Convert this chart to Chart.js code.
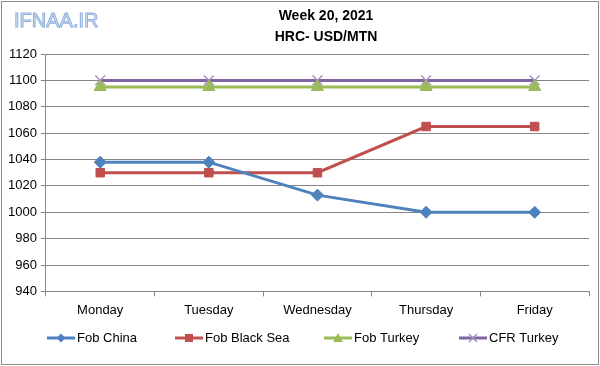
<!DOCTYPE html>
<html>
<head>
<meta charset="utf-8">
<script src="https://cdn.jsdelivr.net/npm/chart.js@4"></script>
<style>
  html, body { margin: 0; padding: 0; background: #fff; }
  #wrap { width: 600px; height: 366px; }
</style>
</head>
<body>
<div id="wrap"><canvas id="chart" width="600" height="366"></canvas></div>
<script>
// data
const days = ["Monday", "Tuesday", "Wednesday", "Thursday", "Friday"];
const fobChina = [1038, 1038, 1013, 1000, 1000];
const fobBlackSea = [1030, 1030, 1030, 1065, 1065];
const fobTurkey = [1095, 1095, 1095, 1095, 1095];
const cfrTurkey = [1100, 1100, 1100, 1100, 1100];
const titleLines = ["Week 20, 2021", "HRC- USD/MTN"];

const FONT = "'Liberation Sans', Arial, sans-serif";

// border, watermark, title and excel-like legend
const decor = {
  id: "decor",
  afterDraw(chart) {
    const ctx = chart.ctx;
    ctx.save();
    ctx.strokeStyle = "#8c8c8c";
    ctx.lineWidth = 1;
    ctx.strokeRect(1.5, 1.5, 597, 363);

    // watermark
    ctx.font = "20px " + FONT;
    ctx.textBaseline = "middle";
    ctx.textAlign = "left";
    ctx.fillStyle = "#dbe6f6";
    ctx.strokeStyle = "#8fb0dc";
    ctx.lineWidth = 1;
    ctx.fillText("IFNAA.IR", 14, 21);
    ctx.strokeText("IFNAA.IR", 14, 21);

    // title
    ctx.font = "bold 14px " + FONT;
    ctx.fillStyle = "#000";
    ctx.textAlign = "center";
    ctx.fillText(titleLines[0], 326, 16);
    ctx.fillText(titleLines[1], 326, 37);

    // legend
    ctx.font = "13px " + FONT;
    ctx.textAlign = "left";
    const xs = [47, 175, 324, 459];
    chart.data.datasets.forEach((ds, i) => {
      const x = xs[i], y = 338;
      ctx.strokeStyle = ds.borderColor;
      ctx.lineWidth = 3;
      ctx.beginPath();
      ctx.moveTo(x, y);
      ctx.lineTo(x + 28, y);
      ctx.stroke();
      drawMarker(ctx, ds.pointStyle, x + 14, y, ds.pointBackgroundColor, ds.pointBorderColor);
      ctx.fillStyle = "#000";
      ctx.fillText(ds.label, x + 30, y);
    });
    ctx.restore();
  }
};

function drawMarker(ctx, style, x, y, fill, stroke) {
  ctx.save();
  ctx.fillStyle = fill;
  ctx.strokeStyle = stroke;
  ctx.lineWidth = 1.5;
  ctx.beginPath();
  if (style === "rectRot") {
    ctx.moveTo(x, y - 4.5); ctx.lineTo(x + 4.5, y); ctx.lineTo(x, y + 4.5); ctx.lineTo(x - 4.5, y);
    ctx.closePath(); ctx.fill();
  } else if (style === "rect") {
    ctx.rect(x - 4, y - 4, 8, 8); ctx.fill();
  } else if (style === "triangle") {
    ctx.moveTo(x, y - 5); ctx.lineTo(x + 5, y + 4); ctx.lineTo(x - 5, y + 4);
    ctx.closePath(); ctx.fill();
  } else {
    ctx.moveTo(x - 4, y - 4); ctx.lineTo(x + 4, y + 4);
    ctx.moveTo(x + 4, y - 4); ctx.lineTo(x - 4, y + 4);
    ctx.stroke();
  }
  ctx.restore();
}

function series(label, data, color, style, radius, markerColor) {
  return {
    label: label,
    data: data,
    borderColor: color,
    backgroundColor: color,
    pointBackgroundColor: markerColor || color,
    pointBorderColor: markerColor || color,
    pointBorderWidth: style === "crossRot" ? 1.5 : 1,
    pointStyle: style,
    pointRadius: radius,
    borderWidth: 3,
    tension: 0,
    fill: false
  };
}

new Chart(document.getElementById("chart"), {
  type: "line",
  data: {
    labels: days,
    datasets: [
      series("Fob China", fobChina, "#4f81bd", "rectRot", 6),
      series("Fob Black Sea", fobBlackSea, "#c0504d", "rect", 6),
      series("Fob Turkey", fobTurkey, "#9bbb59", "triangle", 7),
      series("CFR Turkey", cfrTurkey, "#8064a2", "crossRot", 7, "#a593c2")
    ]
  },
  options: {
    responsive: false,
    animation: false,
    layout: { padding: { top: 54, left: 4, right: 11, bottom: 42 } },
    plugins: {
      legend: { display: false },
      title: { display: false },
      tooltip: { enabled: false }
    },
    scales: {
      x: {
        offset: true,
        grid: {
          offset: true,
          drawOnChartArea: false,
          drawTicks: true,
          tickLength: 5,
          color: "#868686"
        },
        border: { color: "#868686" },
        ticks: { color: "#000", font: { family: FONT, size: 13 }, padding: 6 }
      },
      y: {
        min: 940,
        max: 1120,
        ticks: {
          stepSize: 20,
          color: "#000",
          font: { family: FONT, size: 13 },
          padding: 4,
          callback: v => String(v)
        },
        grid: { color: "#868686", tickLength: 5 },
        border: { color: "#868686" }
      }
    }
  },
  plugins: [decor]
});
</script>
</body>
</html>
